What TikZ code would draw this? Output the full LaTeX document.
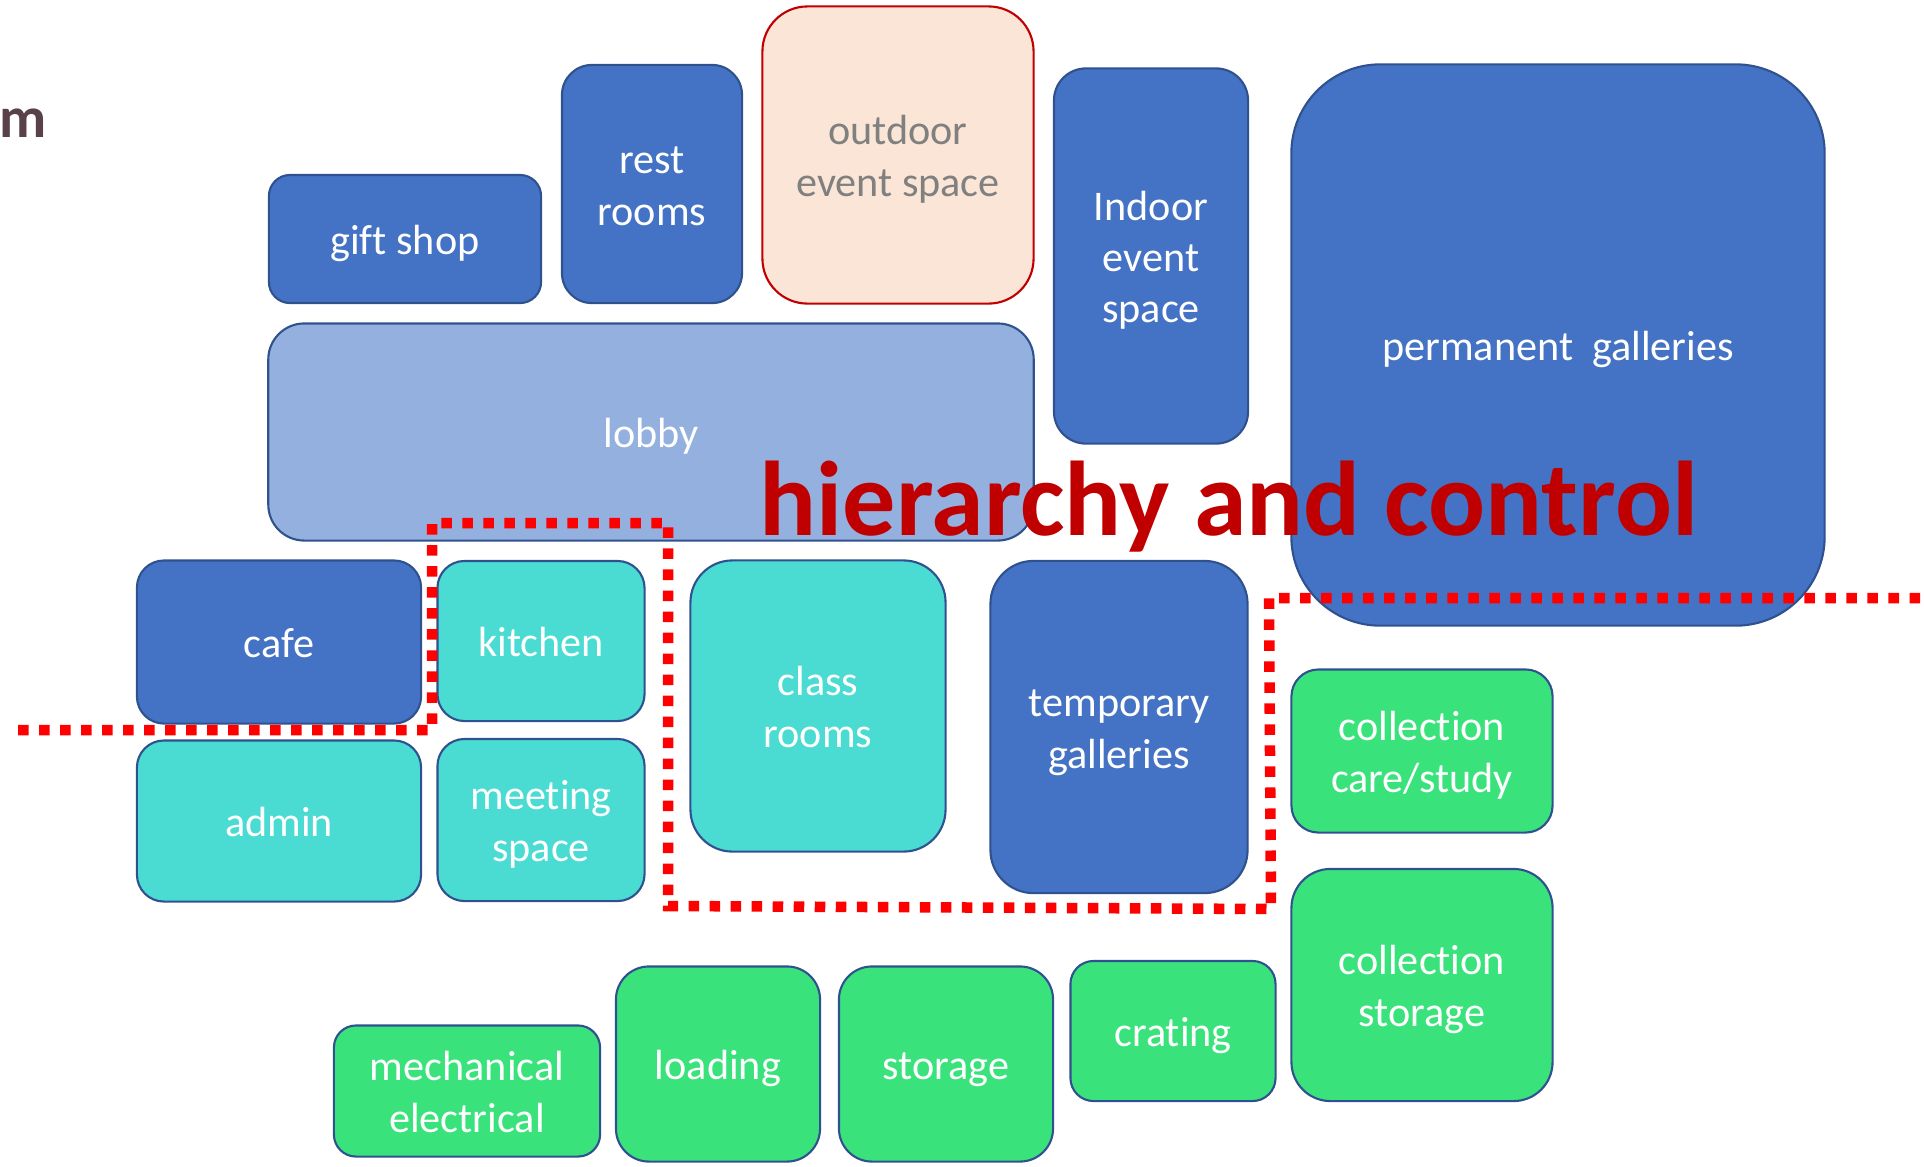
\documentclass[tikz,border=0pt]{standalone}
\usepackage{fontspec}
\setmainfont{Carlito}[Ligatures=NoCommon]
\usepackage{tikz}
\usetikzlibrary{positioning}

\definecolor{roomblue}{HTML}{4472C4}
\definecolor{roomedge}{HTML}{2F528F}
\definecolor{lobbyblue}{HTML}{94B0DE}
\definecolor{roomteal}{HTML}{4ADBD2}
\definecolor{roomgreen}{HTML}{3AE27C}
\definecolor{outfill}{HTML}{FBE5D6}
\definecolor{outedge}{HTML}{C00000}
\definecolor{titlered}{HTML}{C00000}
\definecolor{headgray}{HTML}{584149}

\begin{document}
\begin{tikzpicture}[x=0.01cm,y=-0.01cm,
    room/.style={draw=roomedge,line width=0.6pt,inner sep=0pt,align=center,
      text=white,font=\fontsize{12}{14.6}\selectfont,
      text height=11pt,text depth=2.2pt},
    tworow/.style={text height=25.6pt},
    threerow/.style={text height=40.2pt},
    blueroom/.style={room,fill=roomblue},
    tealroom/.style={room,fill=roomteal},
    greenroom/.style={room,fill=roomgreen},
    zone/.style={draw=red,line width=0.105cm,dash pattern=on 0.105cm off 0.105cm}]
  \useasboundingbox (0,0) rectangle (1924,1166);
  \node[anchor=base west,inner sep=0pt,text=headgray,font=\fontsize{16.5}{20}\selectfont\bfseries] (head) at (-1,137) {m};
  % public side
  \node[blueroom,minimum width=2.72cm,minimum height=1.28cm,rounded corners=0.21cm] (gift) at (405,239) {gift shop};
  \node[blueroom,tworow,minimum width=1.80cm,minimum height=2.38cm,rounded corners=0.30cm] (rest) at (652,184) {rest\\rooms};
  \node[room,tworow,fill=outfill,draw=outedge,text=gray,minimum width=2.71cm,minimum height=2.97cm,rounded corners=0.45cm] (outdoor) at (898,155) {outdoor\\event space};
  \node[blueroom,threerow,minimum width=1.94cm,minimum height=3.75cm,rounded corners=0.32cm] (indoor) at (1151,256) {Indoor\\event\\space};
  \node[blueroom,minimum width=5.33cm,minimum height=5.61cm,rounded corners=0.89cm] (perm) at (1558,345) {permanent\hspace{0.45em}galleries};
  \node[room,fill=lobbyblue,minimum width=7.65cm,minimum height=2.17cm,rounded corners=0.36cm] (lobby) at (651,432) {lobby};
  \node[blueroom,minimum width=2.84cm,minimum height=1.63cm,rounded corners=0.27cm] (cafe) at (279,642) {cafe};
  \node[tealroom,minimum width=2.07cm,minimum height=1.60cm,rounded corners=0.27cm] (kitchen) at (541,641) {kitchen};
  \node[tealroom,tworow,minimum width=2.55cm,minimum height=2.91cm,rounded corners=0.42cm] (classrooms) at (818,706) {class\\rooms};
  \node[blueroom,tworow,minimum width=2.57cm,minimum height=3.32cm,rounded corners=0.43cm] (temp) at (1119,727) {temporary\\galleries};
  \node[tealroom,minimum width=2.84cm,minimum height=1.61cm,rounded corners=0.27cm] (admin) at (279,821) {admin};
  \node[tealroom,tworow,minimum width=2.07cm,minimum height=1.62cm,rounded corners=0.27cm] (meeting) at (541,820) {meeting\\space};
  % back of house
  \node[greenroom,tworow,minimum width=2.61cm,minimum height=1.63cm,rounded corners=0.27cm] (carestudy) at (1422,751) {collection\\care/study};
  \node[greenroom,tworow,minimum width=2.61cm,minimum height=2.32cm,rounded corners=0.39cm] (collstorage) at (1422,985) {collection\\storage};
  \node[greenroom,tworow,minimum width=2.66cm,minimum height=1.31cm,rounded corners=0.22cm] (mech) at (467,1091) {mechanical\\electrical};
  \node[greenroom,minimum width=2.04cm,minimum height=1.95cm,rounded corners=0.33cm] (loading) at (718,1064) {loading};
  \node[greenroom,minimum width=2.14cm,minimum height=1.95cm,rounded corners=0.33cm] (storage) at (946,1064) {storage};
  \node[greenroom,minimum width=2.05cm,minimum height=1.40cm,rounded corners=0.23cm] (crating) at (1173,1031) {crating};
  % zone boundary
  \draw[zone] (18,730) -- (432,730) -- (432,523) -- (668,523) -- (668,906)
    -- (1271,909) -- (1269,598) -- (1924,598);
  \node[anchor=base west,inner sep=0pt,text=titlered,font=\fontsize{30.2}{36}\selectfont\bfseries] (title) at (759,535) {hierarchy and control};
\end{tikzpicture}
\end{document}
